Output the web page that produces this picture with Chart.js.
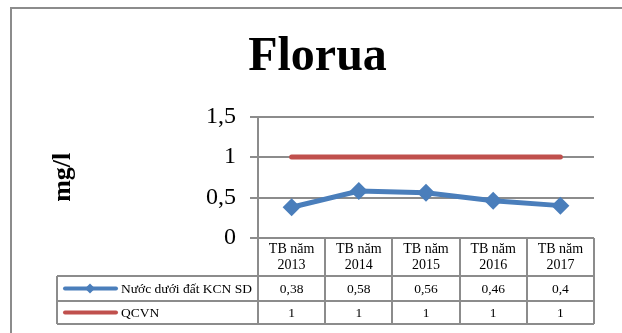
<!DOCTYPE html>
<html>
<head>
<meta charset="utf-8">
<script src="https://cdn.jsdelivr.net/npm/chart.js@4"></script>
<style>
  html, body { margin: 0; padding: 0; background: #fff; }
  #wrap { width: 622px; height: 333px; }
</style>
</head>
<body>
<div id="wrap"><canvas id="chart" width="622" height="333"></canvas></div>
<script>
// Chart data
const years = ['2013', '2014', '2015', '2016', '2017'];
const seriesNames = ['Nước dưới đất KCN SD', 'QCVN'];
const groundWater = [0.38, 0.58, 0.56, 0.46, 0.4];
const qcvn = [1, 1, 1, 1, 1];
const yTicks = [0, 0.5, 1, 1.5];

const SERIF = "'Liberation Serif', 'Times New Roman', serif";
const GRID = '#8c8c8c';
const BLUE = '#4a7ebb';
const RED = '#c0504d';

const fmt = v => String(v).replace('.', ',');

// Data table under the plot (Excel style)
const dataTablePlugin = {
    id: 'dataTable',
    beforeDraw(chart) {
        const ctx = chart.ctx;
        ctx.save();
        ctx.strokeStyle = GRID;
        ctx.lineWidth = 2;
        ctx.strokeRect(11, 8, 700, 400);
        ctx.restore();
    },
    afterDraw(chart) {
        const ctx = chart.ctx;
        const area = chart.chartArea;
        const x = chart.scales.x;
        const colW = (area.right - area.left) / years.length;
        const tableLeft = 57;
        const rowTop = area.bottom + 38;
        const rowH = [25, 23];
        const rows = [groundWater, qcvn];
        const colors = [BLUE, RED];

        ctx.save();
        ctx.strokeStyle = GRID;
        ctx.lineWidth = 2;

        // vertical lines
        const bottom = rowTop + rowH[0] + rowH[1];
        for (let i = 0; i <= years.length; i++) {
            const cx = Math.round(area.left + i * colW);
            ctx.beginPath();
            ctx.moveTo(cx, area.bottom);
            ctx.lineTo(cx, bottom);
            ctx.stroke();
        }
        ctx.beginPath();
        ctx.moveTo(tableLeft, rowTop);
        ctx.lineTo(tableLeft, bottom);
        ctx.stroke();

        // horizontal lines
        let y = rowTop;
        [0, rowH[0], rowH[1]].forEach(h => {
            y += h;
            ctx.beginPath();
            ctx.moveTo(tableLeft, y);
            ctx.lineTo(area.right, y);
            ctx.stroke();
        });

        // rows
        ctx.font = '13.5px ' + SERIF;
        ctx.fillStyle = '#000';
        ctx.textBaseline = 'middle';
        let top = rowTop;
        rows.forEach((vals, r) => {
            const cy = top + rowH[r] / 2 + 1;
            ctx.textAlign = 'center';
            vals.forEach((v, i) => {
                ctx.fillText(fmt(v), x.getPixelForValue(i), cy);
            });

            // legend key
            ctx.strokeStyle = colors[r];
            ctx.lineWidth = 4;
            ctx.lineCap = 'round';
            ctx.beginPath();
            ctx.moveTo(65, cy - 1);
            ctx.lineTo(116, cy - 1);
            ctx.stroke();
            if (r === 0) {
                ctx.fillStyle = colors[r];
                ctx.beginPath();
                ctx.moveTo(90, cy - 6);
                ctx.lineTo(95, cy - 1);
                ctx.lineTo(90, cy + 4);
                ctx.lineTo(85, cy - 1);
                ctx.closePath();
                ctx.fill();
            }
            ctx.fillStyle = '#000';
            ctx.textAlign = 'left';
            ctx.fillText(seriesNames[r], 121, cy);
            top += rowH[r];
        });
        ctx.restore();
    }
};

new Chart(document.getElementById('chart'), {
    type: 'line',
    data: {
        labels: years.map(y => ['TB năm', y]),
        datasets: [{
            label: seriesNames[0],
            data: groundWater,
            borderColor: BLUE,
            backgroundColor: BLUE,
            borderWidth: 5,
            pointStyle: 'rectRot',
            pointRadius: 9,
            pointBorderWidth: 0,
            tension: 0
        }, {
            label: seriesNames[1],
            data: qcvn,
            borderColor: RED,
            backgroundColor: RED,
            borderWidth: 5,
            borderCapStyle: 'round',
            pointRadius: 0,
            tension: 0
        }]
    },
    options: {
        responsive: false,
        animation: false,
        events: [],
        layout: { padding: { left: 41, right: 28, top: 0, bottom: 0 } },
        plugins: {
            legend: { display: false },
            tooltip: { enabled: false },
            title: {
                display: true,
                text: 'Florua',
                color: '#000',
                font: { family: SERIF, size: 48, weight: 'bold' },
                padding: { top: 29, bottom: 30 }
            }
        },
        scales: {
            x: {
                offset: true,
                grid: { display: false, drawTicks: false },
                border: { display: false },
                ticks: {
                    color: '#000',
                    padding: 4,
                    maxRotation: 0,
                    autoSkip: false,
                    font: { family: SERIF, size: 14, lineHeight: 1.1 }
                },
                afterFit(scale) { scale.height = 95; }
            },
            y: {
                min: 0,
                max: 1.5,
                afterBuildTicks(scale) { scale.ticks = yTicks.map(v => ({ value: v })); },
                grid: { color: GRID, lineWidth: 2, tickLength: 8 },
                border: { color: GRID, width: 2 },
                ticks: {
                    color: '#000',
                    padding: 14,
                    font: { family: SERIF, size: 24 },
                    callback: v => fmt(v)
                },
                title: {
                    display: true,
                    text: 'mg/l',
                    color: '#000',
                    font: { family: SERIF, size: 26, weight: 'bold' },
                    padding: { top: 7, bottom: 0 }
                },
                afterFit(scale) { scale.width = 217; }
            }
        }
    },
    plugins: [dataTablePlugin]
});
</script>
</body>
</html>
